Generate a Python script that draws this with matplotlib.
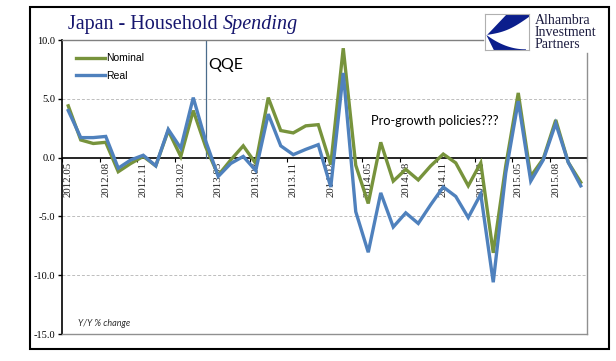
import matplotlib
matplotlib.use('Agg')
import matplotlib.pyplot as plt
from matplotlib.lines import Line2D
from matplotlib.patches import Rectangle, Polygon
import numpy as np

# Monthly categories, May 2012 .. Oct 2015
months = ['2012.05', '2012.06', '2012.07', '2012.08', '2012.09', '2012.10', '2012.11', '2012.12',
          '2013.01', '2013.02', '2013.03', '2013.04', '2013.05', '2013.06', '2013.07', '2013.08',
          '2013.09', '2013.10', '2013.11', '2013.12', '2014.01', '2014.02', '2014.03', '2014.04',
          '2014.05', '2014.06', '2014.07', '2014.08', '2014.09', '2014.10', '2014.11', '2014.12',
          '2015.01', '2015.02', '2015.03', '2015.04', '2015.05', '2015.06', '2015.07', '2015.08',
          '2015.09', '2015.10']

nominal = [4.4, 1.5, 1.2, 1.3, -1.2, -0.5, 0.1, -0.7, 2.3, 0.1, 4.0, 0.9,
           -1.5, -0.2, 1.0, -0.5, 5.1, 2.3, 2.1, 2.7, 2.8, -0.6, 9.3, -0.65,
           -3.9, 1.3, -2.0, -1.0, -1.9, -0.7, 0.3, -0.45, -2.4, -0.45, -8.1, -0.7,
           5.5, -1.6, -0.1, 3.2, -0.4, -2.1]
real = [4.0, 1.7, 1.7, 1.8, -0.9, -0.2, 0.2, -0.7, 2.4, 0.8, 5.1, 1.4,
        -1.6, -0.5, 0.1, -1.1, 3.7, 1.0, 0.25, 0.7, 1.1, -2.5, 7.2, -4.6,
        -8.05, -3.0, -5.9, -4.7, -5.6, -4.0, -2.5, -3.3, -5.1, -3.1, -10.6, -1.3,
        4.8, -2.0, -0.2, 2.9, -0.4, -2.4]

yticks = [-15, -10, -5, 0, 5, 10]
qqe_month = '2013.04'

GREEN = '#77933C'
BLUE = '#4F81BD'
NAVY = '#16166E'
SERIF = 'Liberation Serif'
CAL = 'Lato'

W, H = 616, 361
fig = plt.figure(figsize=(W / 100, H / 100), dpi=100)


def fx(px):
    return px / W


def fy(py):
    return 1 - py / H


# outer frame
fig.add_artist(Rectangle((fx(30), fy(349)), fx(609) - fx(30), fy(7) - fy(349),
                         transform=fig.transFigure, fill=False, ec='black', lw=1.5))

ax = fig.add_axes([fx(62), fy(334), fx(587) - fx(62), fy(40) - fy(334)])
x = np.arange(len(months))
ax.set_xlim(-0.5, len(months) - 0.5)
ax.set_ylim(-15, 10)

for s in ['top', 'right']:
    ax.spines[s].set_visible(False)
ax.spines['left'].set_color('black')
ax.spines['left'].set_linewidth(1.2)
ax.spines['bottom'].set_color('#909090')
ax.spines['bottom'].set_linewidth(1.0)

# top and right borders (broken by the logo)
fig.add_artist(Line2D([fx(62), fx(483)], [fy(40), fy(40)], transform=fig.transFigure,
                      color='#808080', lw=1.0))
fig.add_artist(Line2D([fx(587), fx(587)], [fy(53), fy(334)], transform=fig.transFigure,
                      color='#909090', lw=1.0))

for v in yticks:
    if v not in (0, 10, -15):
        ax.axhline(v, color='#bdbdbd', lw=0.7, ls=(0, (3, 2)), zorder=0)
ax.axhline(0, color='black', lw=1.2, zorder=1)

ax.set_yticks(yticks)
ax.set_yticklabels(['%.1f' % v for v in yticks], fontfamily=SERIF, fontsize=7.5)
ax.tick_params(axis='y', direction='out', length=3, width=1, pad=2)
ax.set_xticks([])

# category labels hanging from the zero line, every third month
for i in range(0, len(months), 3):
    ax.text(x[i], -0.35, months[i], rotation=90, ha='center', va='top',
            fontfamily=SERIF, fontsize=7.8, color='#202020')
ax.vlines(np.arange(-0.5, len(months), 3), -0.35, 0, color='black', lw=0.8)

ax.plot(x, nominal, color=GREEN, lw=2.4, label='Nominal', solid_joinstyle='miter', zorder=3)
ax.plot(x, real, color=BLUE, lw=2.4, label='Real', solid_joinstyle='miter', zorder=4)

# QQE marker
qi = months.index(qqe_month)
ax.plot([qi, qi], [0, 10], color='#4A6C8C', lw=0.9, zorder=2)
ax.text(qi + 0.2, 7.9, 'QQE', fontfamily=CAL, fontsize=11.5, va='center', ha='left')

ax.text(0.588, 0.726, 'Pro-growth policies???', transform=ax.transAxes,
        fontfamily=CAL, fontsize=9.3, va='center', ha='left')
ax.text(0.03, 0.035, 'Y/Y % change', transform=ax.transAxes, fontfamily=CAL,
        fontstyle='italic', fontsize=6.5, color='#303030', va='center')

leg = ax.legend(loc='upper left', bbox_to_anchor=(0.027, 0.955), frameon=False,
                borderpad=0, borderaxespad=0, handlelength=2.8, handletextpad=0.1,
                labelspacing=0.75, prop={'family': 'Liberation Sans', 'size': 7.5})

# title: upright part then italic word placed right after it
t1 = fig.text(fx(68), fy(24), 'Japan - Household', fontfamily=SERIF, fontsize=14.5,
              color=NAVY, va='center', ha='left')
renderer = fig.canvas.get_renderer()
x_end = t1.get_window_extent(renderer).x1
fig.text((x_end + 5) / W, fy(24), 'Spending', fontfamily=SERIF, fontsize=14.5,
         fontstyle='italic', color=NAVY, va='center', ha='left')

# logo
lax = fig.add_axes([fx(485), fy(50), fx(529) - fx(485), fy(14) - fy(50)])
lax.set_xlim(0, 1)
lax.set_ylim(0, 1)
lax.set_xticks([])
lax.set_yticks([])
for s in lax.spines.values():
    s.set_color('#b0b0b0')
    s.set_linewidth(0.8)
logo_blue = '#0B1E8C'
t = np.linspace(0, 1, 20)
upper = [(0.5, 1.0), (1.0, 1.0), (1.0, 0.92)] + [(1.0 - 0.95 * u, 0.92 - 0.5 * u - 0.1 * np.sin(np.pi * u)) for u in t]
lax.add_patch(Polygon(upper, closed=True, color=logo_blue, lw=0))
lower = [(0.03, 0.42)] + [(0.03 + 0.9 * u, 0.42 * (1 - u) ** 2 + 0.02 * u) for u in t] + [(0.93, 0.0), (0.2, 0.0)]
lax.add_patch(Polygon(lower, closed=True, color=logo_blue, lw=0))

for k, word in enumerate(['Alhambra', 'Investment', 'Partners']):
    fig.text(fx(535), fy(20 + 12.3 * k), word, fontfamily=SERIF, fontsize=10,
             color='#1C1C40', va='center', ha='left')

fig.savefig('out.png', dpi=100)
